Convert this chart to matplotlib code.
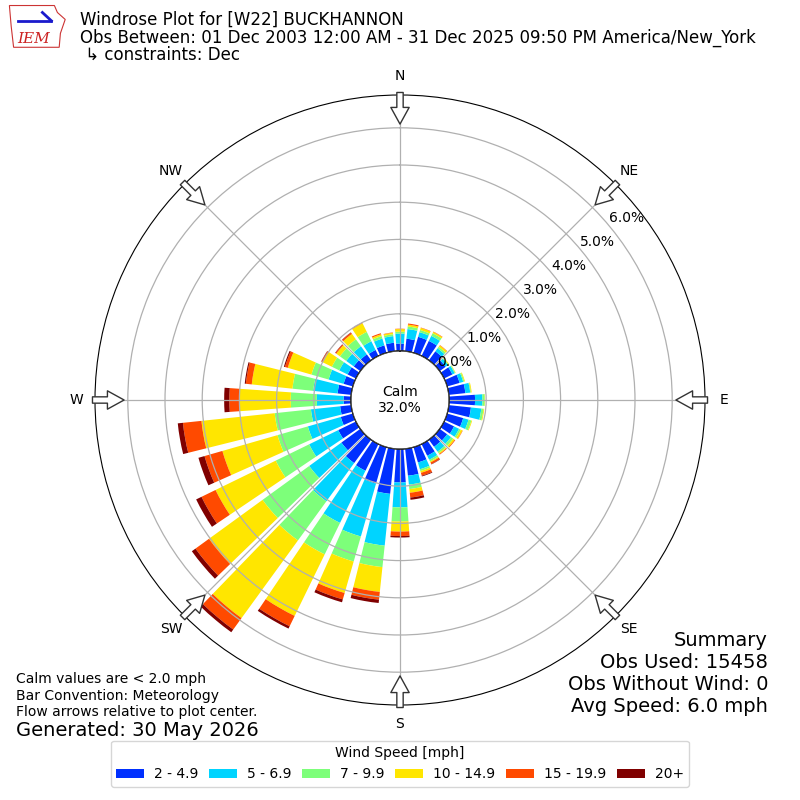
import numpy as np
import matplotlib
matplotlib.use("Agg")
from matplotlib import pyplot as plt
from matplotlib.patches import Patch, Circle, Polygon

# direction bins (degrees, meteorological) and speed bins
directions = np.arange(0, 360, 10)
speed_labels = ["2 - 4.9", "5 - 6.9", "7 - 9.9", "10 - 14.9", "15 - 19.9", "20+"]

# frequency [%] per direction for each speed bin
spd_2_5 = [0.20, 0.34, 0.45, 0.45, 0.30, 0.20, 0.25, 0.35, 0.45, 0.70, 0.60, 0.45,
           0.30, 0.25, 0.24, 0.35, 0.43, 0.73, 0.90, 1.22, 1.02, 0.80, 0.78, 0.63,
           0.53, 0.34, 0.30, 0.20, 0.37, 0.26, 0.25, 0.22, 0.20, 0.18, 0.21, 0.23]
spd_5_7 = [0.27, 0.26, 0.13, 0.15, 0.10, 0.08, 0.07, 0.10, 0.13, 0.20, 0.28, 0.15,
           0.15, 0.13, 0.16, 0.12, 0.19, 0.24, 0.67, 1.40, 1.48, 1.56, 1.27, 1.07,
           0.87, 0.92, 0.79, 0.72, 0.66, 0.42, 0.25, 0.25, 0.27, 0.26, 0.19, 0.18]
spd_7_10 = [0.05, 0.07, 0.06, 0.08, 0.05, 0.02, 0.02, 0.03, 0.02, 0.06, 0.06, 0.08,
            0.05, 0.07, 0.05, 0.05, 0.05, 0.12, 0.38, 0.58, 0.70, 0.94, 1.30, 1.55,
            1.00, 0.85, 0.98, 0.70, 0.56, 0.48, 0.22, 0.21, 0.23, 0.28, 0.07, 0.05]
spd_10_15 = [0.07, 0.05, 0.06, 0.04, 0.05, 0.02, 0.01, 0.02, 0.02, 0.01, 0.02, 0.02,
             0.05, 0.05, 0.03, 0.03, 0.05, 0.10, 0.27, 0.67, 0.88, 1.84, 2.58, 1.78,
             1.80, 1.54, 1.98, 1.38, 1.10, 0.66, 0.28, 0.12, 0.18, 0.26, 0.05, 0.04]
spd_15_20 = [0.01, 0.03, 0.01, 0.01, 0.01, 0.00, 0.00, 0.00, 0.00, 0.00, 0.00, 0.00,
             0.01, 0.02, 0.02, 0.05, 0.08, 0.13, 0.12, 0.21, 0.18, 0.31, 0.38, 0.45,
             0.42, 0.50, 0.50, 0.27, 0.16, 0.08, 0.03, 0.03, 0.04, 0.02, 0.03, 0.01]
spd_20 = [0.00, 0.00, 0.00, 0.00, 0.00, 0.00, 0.00, 0.00, 0.00, 0.00, 0.00, 0.00,
          0.00, 0.00, 0.00, 0.01, 0.02, 0.06, 0.04, 0.09, 0.08, 0.07, 0.09, 0.12,
          0.16, 0.17, 0.14, 0.14, 0.03, 0.03, 0.01, 0.01, 0.01, 0.00, 0.00, 0.00]

calm_pct = 32.0
obs_used = 15458
obs_no_wind = 0
avg_speed = 6.0

colors = ["#0030ff", "#00d4ff", "#7dff7a", "#ffe600", "#ff4a00", "#800000"]
series = [spd_2_5, spd_5_7, spd_7_10, spd_10_15, spd_15_20, spd_20]

fig = plt.figure(figsize=(8, 8), dpi=100)

# polar axes: center (400,400) px, radius 305 px
ax = fig.add_axes([0.11875, 0.11875, 0.7625, 0.7625], projection="polar")
ax.set_theta_zero_location("N")
ax.set_theta_direction(-1)
ax.set_rorigin(-1.317)
ax.set_ylim(0, 6.882)

theta = np.radians(directions)
width = np.radians(10) * 0.8
bottom = np.zeros(len(directions))
for vals, col in zip(series, colors):
    vals = np.array(vals)
    ax.bar(theta, vals, width=width, bottom=bottom, color=col,
           edgecolor="none", zorder=2)
    bottom = bottom + vals

ax.set_yticks(np.arange(0, 7))
ax.set_yticklabels(["%.1f%%" % v for v in range(7)], fontsize=10)
ax.set_rlabel_position(50)
ax.set_xticks(np.radians(np.arange(0, 360, 45)))
ax.set_xticklabels(["N", "NE", "E", "SE", "S", "SW", "W", "NW"], fontsize=10)
ax.tick_params(axis="x", pad=3)
ax.grid(True, color="#b0b0b0", lw=0.9)
ax.set_axisbelow(False)

# calm circle
ax.add_patch(Circle((0.5, 0.5), 49 / 610, transform=ax.transAxes, fc="white",
                    ec="black", lw=1, zorder=4))
ax.text(0.5, 0.5, "Calm\n%.1f%%" % calm_pct, transform=ax.transAxes,
        ha="center", va="center", fontsize=10, zorder=5)

# flow arrows pointing toward plot center
for d in range(0, 360, 45):
    ax.annotate("", xy=(np.radians(d), 6.1), xytext=(np.radians(d), 6.95),
                arrowprops=dict(arrowstyle="simple,head_length=1.0,head_width=1.1,tail_width=0.38",
                                mutation_scale=12, fc="white", ec="#333333", lw=1,
                                shrinkA=0, shrinkB=0),
                annotation_clip=False, zorder=6)

# header
fig.text(0.1, 0.975, "Windrose Plot for [W22] BUCKHANNON", fontsize=12, va="center")
fig.text(0.1, 0.9525, "Obs Between: 01 Dec 2003 12:00 AM - 31 Dec 2025 09:50 PM America/New_York",
         fontsize=12, va="center")
fig.text(0.1, 0.931, " \u21b3 constraints: Dec", fontsize=12, va="center")

# IEM logo (simple)
lax = fig.add_axes([0.008, 0.938, 0.075, 0.058])
lax.set_xlim(0, 1)
lax.set_ylim(0, 1)
lax.axis("off")
lax.add_patch(Polygon([[0.05, 0.95], [0.8, 0.95], [0.85, 0.8], [0.98, 0.65], [0.9, 0.35],
                       [0.88, 0.05], [0.12, 0.05], [0.08, 0.5]],
                      closed=True, fc="white", ec="#cc3333", lw=0.8))
lax.plot([0.2, 0.75], [0.62, 0.62], color="#1a1acc", lw=2)
lax.plot([0.6, 0.75], [0.8, 0.62], color="#1a1acc", lw=2)
lax.text(0.45, 0.22, "IEM", color="#cc2222", fontsize=11, fontstyle="italic",
         family="serif", ha="center", va="center")

# footer notes
fig.text(0.02, 0.151, "Calm values are < 2.0 mph", fontsize=10, va="center")
fig.text(0.02, 0.130, "Bar Convention: Meteorology", fontsize=10, va="center")
fig.text(0.02, 0.110, "Flow arrows relative to plot center.", fontsize=10, va="center")
fig.text(0.02, 0.0875, "Generated: 30 May 2026", fontsize=14, va="center")

fig.text(0.96, 0.2, "Summary", fontsize=14, ha="right", va="center")
fig.text(0.96, 0.1725, "Obs Used: %s" % obs_used, fontsize=14, ha="right", va="center")
fig.text(0.96, 0.145, "Obs Without Wind: %s" % obs_no_wind, fontsize=14, ha="right", va="center")
fig.text(0.96, 0.1175, "Avg Speed: %.1f mph" % avg_speed, fontsize=14, ha="right", va="center")

handles = [Patch(facecolor=c, label=l) for c, l in zip(colors, speed_labels)]
fig.legend(handles=handles, loc="lower center", bbox_to_anchor=(0.5, 0.008), ncol=6,
           title="Wind Speed [mph]", fontsize=10, title_fontsize=10,
           handlelength=2.0, handleheight=0.63, handletextpad=0.7, columnspacing=0.8)

fig.savefig("out.png", dpi=100)
